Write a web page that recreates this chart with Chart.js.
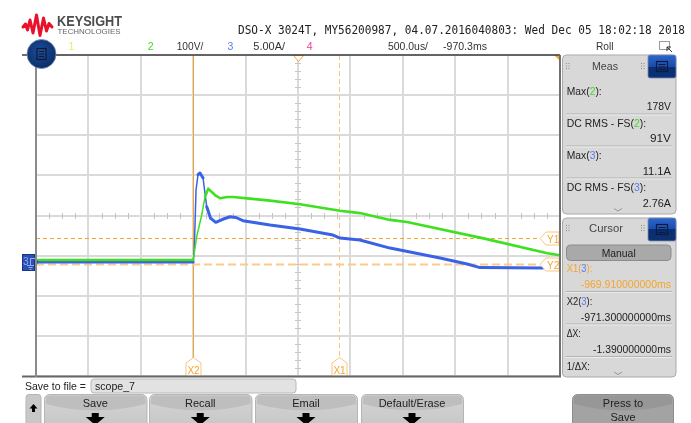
<!DOCTYPE html>
<html>
<head>
<meta charset="utf-8">
<script src="https://cdn.jsdelivr.net/npm/chart.js@4/dist/chart.umd.min.js"></script>
<style>
  html, body { margin: 0; padding: 0; background: #fff; }
  #wrap { position: relative; width: 691px; height: 423px; overflow: hidden; }
  #scope { position: absolute; left: 0; top: 0; }
  #ui { position: absolute; left: 0; top: 0; }
</style>
</head>
<body>
<div id="wrap">
  <canvas id="scope" width="691" height="423"></canvas>
  <svg id="ui" width="691" height="423" xmlns="http://www.w3.org/2000/svg"></svg>
</div>
<script>
// ---- acquisition settings ----
const timePerDivMs = 0.5;      // 500.0us/div
const timeCenterMs = -970.3;   // horizontal position
const ch2VoltsPerDiv = 100;    // channel 2: 100V/div
const ch3AmpsPerDiv = 5;       // channel 3: 5.00A/div
const ch2GroundDiv = -1.11;    // ground level, divisions from screen centre
const ch3GroundDiv = -1.16;

// ---- channel 2 (voltage) ----
const ch2TimeMs = [-972.80, -971.30, -971.267, -971.219, -971.187, -971.156, -971.125, -971.092,
                   -971.044, -970.977, -970.920, -970.758, -970.567, -970.281, -969.900, -969.710,
                   -969.420, -969.260, -968.530, -967.920, -967.800];
const ch2Volts  = [0, 0, 58, 112, 158, 178, 170, 162,
                   154, 157, 157, 153, 148, 139, 123, 117,
                   100, 95, 54, 17, 12];

// ---- channel 3 (current) ----
const ch3TimeMs = [-972.80, -971.30, -971.29, -971.273, -971.254, -971.235, -971.206, -971.171,
                   -971.135, -971.085, -971.025, -970.949, -970.892, -970.825, -970.567, -970.281,
                   -969.966, -969.899, -969.710, -969.422, -968.945, -968.687, -968.563, -967.962];
const ch3Amps   = [0, 0, 1.4, 9.0, 10.9, 11.1, 10.47, 6.89,
                   5.48, 4.95, 5.30, 5.64, 5.55, 5.15, 4.61, 4.11,
                   3.36, 2.99, 2.74, 1.74, 0.50, -0.25, -0.69, -0.75];

// ---- cursors ----
const cursorXNames = ['X1', 'X2'];
const cursorXMs    = [-969.91, -971.30];
const cursorYNames = ['Y1', 'Y2'];
const cursorYAmps  = [3.0, -0.3];

// ---- measurement panel ----
const measLabels = [['Max(', '2', '):'], ['DC RMS - FS(', '2', '):'], ['Max(', '3', '):'], ['DC RMS - FS(', '3', '):']];
const measValues = ['178V', '91V', '11.1A', '2.76A'];

const xMin = timeCenterMs - 5 * timePerDivMs;
const xMax = timeCenterMs + 5 * timePerDivMs;
const vMin = (-4 - ch2GroundDiv) * ch2VoltsPerDiv;
const vMax = (4 - ch2GroundDiv) * ch2VoltsPerDiv;
const aMin = (-4 - ch3GroundDiv) * ch3AmpsPerDiv;
const aMax = (4 - ch3GroundDiv) * ch3AmpsPerDiv;

const ORANGE = '#f5a52c';
const ORANGE_LIGHT = '#f9c57e';
const GREEN = '#3fe01f';
const BLUE = '#3a62e4';

const toPoints = (ts, vs) => ts.map((t, i) => ({ x: t, y: vs[i] }));
// fast edges are drawn with a thinner pen
const edgeWidth = w => ctx => {
  const dx = Math.abs(ctx.p1.x - ctx.p0.x), dy = Math.abs(ctx.p1.y - ctx.p0.y);
  return dy > 3 * dx ? 1.5 : w;
};

function pentagonUp(ctx, cx, bottom, label) {
  ctx.beginPath();
  ctx.moveTo(cx - 7.5, bottom);
  ctx.lineTo(cx - 7.5, bottom - 13);
  ctx.lineTo(cx, bottom - 18.5);
  ctx.lineTo(cx + 7.5, bottom - 13);
  ctx.lineTo(cx + 7.5, bottom);
  ctx.closePath();
  ctx.fillStyle = '#fff'; ctx.fill();
  ctx.strokeStyle = ORANGE_LIGHT; ctx.lineWidth = 1; ctx.stroke();
  ctx.fillStyle = ORANGE; ctx.font = '10px "Liberation Sans", Arial, sans-serif';
  ctx.textAlign = 'center'; ctx.textBaseline = 'alphabetic';
  ctx.fillText(label, cx, bottom - 2.5);
}
function pentagonLeft(ctx, right, cy, label) {
  ctx.beginPath();
  ctx.moveTo(right - 1, cy - 6.5);
  ctx.lineTo(right - 14, cy - 6.5);
  ctx.lineTo(right - 20, cy);
  ctx.lineTo(right - 14, cy + 6.5);
  ctx.lineTo(right - 1, cy + 6.5);
  ctx.closePath();
  ctx.fillStyle = '#fff'; ctx.fill();
  ctx.strokeStyle = ORANGE_LIGHT; ctx.lineWidth = 1; ctx.stroke();
  ctx.fillStyle = ORANGE; ctx.font = '10px "Liberation Sans", Arial, sans-serif';
  ctx.textAlign = 'left'; ctx.textBaseline = 'alphabetic';
  ctx.fillText(label, right - 13, cy + 4);
}

const scopeOverlay = {
  id: 'scopeOverlay',
  beforeDatasetsDraw(chart) {
    const { ctx, chartArea: a, scales: { x, yA } } = chart;
    ctx.save();
    // graticule sub-divisions on the centre lines
    const cx = Math.round(x.getPixelForValue(timeCenterMs));
    const cy = Math.round((a.top + a.bottom) / 2);
    const divW = a.width / 10, divH = a.height / 8;
    ctx.strokeStyle = '#c6c6c6'; ctx.lineWidth = 1;
    for (let i = 1; i < 40; i++) {
      if (i % 4 === 0) continue;
      const px = Math.round(a.left + i * divW / 4) + 0.5;
      ctx.beginPath(); ctx.moveTo(px, cy - 3); ctx.lineTo(px, cy + 3); ctx.stroke();
    }
    for (let j = 1; j < 40; j++) {
      if (j % 5 === 0) continue;
      const py = Math.round(a.top + j * divH / 5) + 0.5;
      ctx.beginPath(); ctx.moveTo(cx - 3, py); ctx.lineTo(cx + 3, py); ctx.stroke();
    }
    // time cursors
    cursorXMs.forEach((t, i) => {
      const px = Math.round(x.getPixelForValue(t)) + 0.5;
      ctx.beginPath();
      if (cursorXNames[i] === 'X2') { ctx.setLineDash([]); ctx.strokeStyle = ORANGE; }
      else { ctx.setLineDash([5, 3]); ctx.strokeStyle = ORANGE_LIGHT; }
      ctx.lineWidth = 1;
      ctx.moveTo(px, a.top); ctx.lineTo(px, a.bottom); ctx.stroke();
    });
    // amplitude cursors
    cursorYAmps.forEach((v, i) => {
      const py = Math.round(yA.getPixelForValue(v)) + 0.5;
      ctx.beginPath();
      if (cursorYNames[i] === 'Y1') { ctx.setLineDash([4, 3]); ctx.strokeStyle = ORANGE; ctx.lineWidth = 1; }
      else { ctx.setLineDash([8, 4]); ctx.strokeStyle = '#fbc98a'; ctx.lineWidth = 2; }
      ctx.moveTo(a.left, py); ctx.lineTo(a.right - 20, py); ctx.stroke();
    });
    ctx.restore();
  },
  afterDatasetsDraw(chart) {
    const { ctx, chartArea: a, scales: { x, yA } } = chart;
    ctx.save();
    cursorXMs.forEach((t, i) => pentagonUp(ctx, Math.round(x.getPixelForValue(t)) + 0.5, a.bottom, cursorXNames[i]));
    cursorYAmps.forEach((v, i) => pentagonLeft(ctx, a.right, Math.round(yA.getPixelForValue(v)) + 0.5, cursorYNames[i]));
    // trigger position marker
    const cx = Math.round(x.getPixelForValue(timeCenterMs)) + 0.5;
    ctx.beginPath();
    ctx.moveTo(cx - 5, a.top + 0.5); ctx.lineTo(cx + 5, a.top + 0.5); ctx.lineTo(cx, a.top + 6.5); ctx.closePath();
    ctx.fillStyle = '#fff'; ctx.fill(); ctx.strokeStyle = ORANGE; ctx.lineWidth = 1; ctx.stroke();
    // off-screen indicator in the top-right corner
    ctx.beginPath();
    ctx.moveTo(a.right - 6, a.top); ctx.lineTo(a.right, a.top); ctx.lineTo(a.right, a.top + 6); ctx.closePath();
    ctx.fillStyle = ORANGE; ctx.fill();
    ctx.restore();
  },
  afterDraw(chart) {
    const { ctx, chartArea: a, scales: { yA } } = chart;
    // channel 3 ground reference marker
    const gy = Math.round(yA.getPixelForValue(0));
    ctx.save();
    ctx.fillStyle = '#2a50b6'; ctx.strokeStyle = '#17377f'; ctx.lineWidth = 1;
    ctx.fillRect(22, gy - 8, 13, 17); ctx.strokeRect(22.5, gy - 7.5, 12, 16);
    ctx.beginPath(); ctx.moveTo(35, gy - 4); ctx.lineTo(39, gy); ctx.lineTo(35, gy + 4); ctx.closePath();
    ctx.fillStyle = '#2a50b6'; ctx.fill();
    ctx.fillStyle = '#8eaaf6'; ctx.font = '10px "Liberation Sans", Arial, sans-serif';
    ctx.textAlign = 'left'; ctx.fillText('3', 23, gy + 3);
    ctx.strokeStyle = '#8eaaf6';
    ctx.beginPath();
    ctx.moveTo(30.5, gy - 4); ctx.lineTo(30.5, gy + 3);
    ctx.moveTo(30.5, gy - 3.5); ctx.lineTo(35, gy - 3.5);
    ctx.moveTo(27, gy + 3.5); ctx.lineTo(34, gy + 3.5);
    ctx.moveTo(28.5, gy + 5.5); ctx.lineTo(32.5, gy + 5.5);
    ctx.moveTo(29.5, gy + 7.5); ctx.lineTo(31.5, gy + 7.5);
    ctx.stroke();
    ctx.restore();
  }
};

const gridStyle = { color: '#dadada', lineWidth: 2, drawTicks: false };

new Chart(document.getElementById('scope'), {
  type: 'line',
  data: {
    datasets: [
      {
        label: '2', data: toPoints(ch2TimeMs, ch2Volts), yAxisID: 'yV',
        borderColor: GREEN, borderWidth: 2.6, pointRadius: 0, tension: 0, order: 0,
        borderJoinStyle: 'round', borderCapStyle: 'round',
        segment: { borderWidth: edgeWidth(2.6) }
      },
      {
        label: '3', data: toPoints(ch3TimeMs, ch3Amps), yAxisID: 'yA',
        borderColor: BLUE, borderWidth: 3, pointRadius: 0, tension: 0, order: 1,
        borderJoinStyle: 'round', borderCapStyle: 'round',
        segment: { borderWidth: edgeWidth(3) }
      }
    ]
  },
  options: {
    responsive: false,
    animation: false,
    devicePixelRatio: 1,
    events: [],
    layout: { padding: { left: 36, top: 55, right: 131, bottom: 47 } },
    plugins: { legend: { display: false }, tooltip: { enabled: false } },
    scales: {
      x: {
        type: 'linear', min: xMin, max: xMax,
        afterBuildTicks: s => { s.ticks = Array.from({ length: 11 }, (_, i) => ({ value: xMin + i * timePerDivMs })); },
        ticks: { display: false }, border: { display: false }, grid: gridStyle
      },
      yV: {
        type: 'linear', position: 'left', min: vMin, max: vMax,
        afterBuildTicks: s => { s.ticks = Array.from({ length: 9 }, (_, i) => ({ value: vMin + i * ch2VoltsPerDiv })); },
        ticks: { display: false }, border: { display: false }, grid: gridStyle
      },
      yA: { type: 'linear', position: 'right', min: aMin, max: aMax, display: false }
    }
  },
  plugins: [scopeOverlay]
});

// ---------------- instrument screen furniture ----------------
const NS = 'http://www.w3.org/2000/svg';
const svg = document.getElementById('ui');
const FONT = "'Liberation Sans', Arial, sans-serif";
function el(tag, attrs, parent) {
  const e = document.createElementNS(NS, tag);
  for (const k in attrs) e.setAttribute(k, attrs[k]);
  (parent || svg).appendChild(e);
  return e;
}
function txt(x, y, parts, o = {}) {
  const e = el('text', {
    x, y, 'font-size': o.size || 10.5, 'font-family': o.family || FONT,
    'font-weight': o.weight || 'normal', fill: o.fill || '#222', 'text-anchor': o.anchor || 'start'
  });
  if (o.w) { e.setAttribute('textLength', o.w); e.setAttribute('lengthAdjust', 'spacingAndGlyphs'); }
  if (typeof parts === 'string') e.textContent = parts;
  else parts.forEach(([s, c]) => { const t = el('tspan', {}, e); if (c) t.setAttribute('fill', c); t.textContent = s; });
  return e;
}

const defs = el('defs', {});
const g1 = el('linearGradient', { id: 'btnBlue', x1: 0, y1: 0, x2: 0, y2: 1 }, defs);
[['0', '#2d66cc'], ['0.5', '#1c4bab'], ['0.5', '#0b2e6e'], ['1', '#0c3174']].forEach(([o, c]) => el('stop', { offset: o, 'stop-color': c }, g1));
const g2 = el('radialGradient', { id: 'navyDot', cx: 0.45, cy: 0.4, r: 0.6 }, defs);
[['0', '#1d4e9c'], ['1', '#0a2d69']].forEach(([o, c]) => el('stop', { offset: o, 'stop-color': c }, g2));
const g3 = el('linearGradient', { id: 'keyFace', x1: 0, y1: 0, x2: 0, y2: 1 }, defs);
[['0', '#d4d4d4'], ['1', '#c4c4c4']].forEach(([o, c]) => el('stop', { offset: o, 'stop-color': c }, g3));

// brand
el('polyline', {
  points: '23,27 25.5,24 27.5,30 30,20 33,33 36.5,15 40,35.5 43.5,18 46.5,31 49,23.5 52,27',
  fill: 'none', stroke: '#e8132b', 'stroke-width': 3, 'stroke-linejoin': 'round', 'stroke-linecap': 'round'
});
txt(57, 26, 'KEYSIGHT', { size: 15, weight: 'bold', fill: '#4d4d4d', w: 65 });
txt(57.5, 33.5, 'TECHNOLOGIES', { size: 7, fill: '#666', w: 63 });
txt(238, 33.5, 'DSO-X 3024T, MY56200987, 04.07.2016040803: Wed Dec 05 18:02:18 2018',
    { size: 11.5, family: "'DejaVu Sans Mono', monospace", fill: '#222', w: 447 });

// channel / timebase status line
txt(68.5, 50, '1', { fill: '#ecec62' });
txt(147.7, 50, '2', { fill: '#46d826' });
txt(176.7, 50, '100V/', { w: 26.6, fill: '#333' });
txt(227.5, 50, '3', { fill: '#5a7cf0' });
txt(253.3, 50, '5.00A/', { w: 31.7, fill: '#333' });
txt(306.7, 50, '4', { fill: '#ee3c98' });
txt(388, 50, '500.0us/', { w: 40, fill: '#333' });
txt(443, 50, '-970.3ms', { w: 44, fill: '#333' });
txt(596, 50, 'Roll', { w: 17.5, fill: '#333' });
el('rect', { x: 659.5, y: 41.5, width: 10, height: 8, fill: 'none', stroke: '#333', 'stroke-dasharray': '1,1' });
el('path', { d: 'M667,47 L672,52 M667,47 L667,51 M667,47 L671,47', stroke: '#333', 'stroke-width': 1, fill: 'none' });

// graticule frame
el('line', { x1: 22, y1: 55, x2: 560, y2: 55, stroke: '#3c3c3c', 'stroke-width': 1.5 });
el('line', { x1: 22, y1: 376.5, x2: 561, y2: 376.5, stroke: '#666', 'stroke-width': 2 });
el('line', { x1: 36, y1: 55, x2: 36, y2: 377, stroke: '#8a8a8a', 'stroke-width': 2 });
el('line', { x1: 560, y1: 55, x2: 560, y2: 377, stroke: '#707070', 'stroke-width': 2 });

// main menu button
el('circle', { cx: 41.5, cy: 54, r: 14.5, fill: 'url(#navyDot)', stroke: '#7d8fb3', 'stroke-width': 0.8 });
el('rect', { x: 37, y: 48.5, width: 9, height: 11, fill: 'none', stroke: '#111a33', 'stroke-width': 1.2 });
el('path', { d: 'M39,51.5 H44 M39,54 H44 M39,56.5 H44', stroke: '#111a33', 'stroke-width': 1 });

function panelButton(y) {
  el('rect', { x: 648, y, width: 28, height: 23, rx: 2, fill: 'url(#btnBlue)', stroke: '#7f8fb0', 'stroke-width': 0.8 });
  el('rect', { x: 656.5, y: y + 6.5, width: 11, height: 10, fill: 'none', stroke: '#0b1a42', 'stroke-width': 1.2 });
  el('path', { d: `M658.5,${y + 9.5} H665.5 M658.5,${y + 12} H665.5 M658.5,${y + 14.5} H665.5`, stroke: '#0b1a42', 'stroke-width': 1 });
}
function grip(x, y) {
  for (let r = 0; r < 3; r++) for (let c = 0; c < 2; c++)
    el('rect', { x: x + c * 2.5, y: y + r * 2.5, width: 1, height: 1, fill: '#8a8a8a' });
}
function chevron(y) {
  el('polyline', { points: `614,${y - 1.5} 618,${y + 1} 622,${y - 1.5}`, fill: 'none', stroke: '#8c8c8c', 'stroke-width': 0.9 });
}
function separator(y) {
  el('line', { x1: 566, y1: y, x2: 672, y2: y, stroke: '#b3b3b3', 'stroke-width': 1 });
  el('line', { x1: 566, y1: y + 1, x2: 672, y2: y + 1, stroke: '#ececec', 'stroke-width': 1 });
}

// measurement panel
el('rect', { x: 562.5, y: 55, width: 113.5, height: 159, rx: 4, fill: '#d8d8d8', stroke: '#a9a9a9', 'stroke-width': 1 });
panelButton(55);
grip(566, 63); grip(641, 63);
txt(605, 70, 'Meas', { anchor: 'middle', size: 11, w: 26, fill: '#444' });
const measRows = [95, 126.5, 158.5, 191];
const measValRows = [109.5, 142, 175, 207];
const chanColor = { '2': '#46d826', '3': '#5a7cf0' };
measLabels.forEach((lab, i) => {
  txt(566.7, measRows[i], [[lab[0]], [lab[1], chanColor[lab[1]]], [lab[2]]], { w: lab[0].length > 5 ? 79.5 : 35 });
  txt(671, measValRows[i], measValues[i], { anchor: 'end', w: [24.3, 21, 28.3, 28.3][i] });
  if (i < 3) separator([114, 146, 178][i]);
});
chevron(210);

// cursor panel
el('rect', { x: 562.5, y: 218, width: 113.5, height: 159, rx: 4, fill: '#d8d8d8', stroke: '#a9a9a9', 'stroke-width': 1 });
panelButton(218);
grip(566, 225); grip(641, 225);
txt(606, 232, 'Cursor', { anchor: 'middle', size: 11, w: 34, fill: '#444' });
el('rect', { x: 566.5, y: 245, width: 104.5, height: 15.5, rx: 4, fill: '#a9a9a9', stroke: '#8c8c8c', 'stroke-width': 1 });
txt(618.7, 257, 'Manual', { anchor: 'middle', size: 11, w: 34, fill: '#222' });
txt(566.7, 272, [['X1(', ORANGE], ['3', '#5a7cf0'], ['):', ORANGE]], { w: 25.6 });
txt(671, 287.5, '-969.910000000ms', { anchor: 'end', w: 90.3, fill: ORANGE });
separator(291.5);
txt(566.7, 304.5, [['X2('], ['3', '#5a7cf0'], ['):']], { w: 25.6 });
txt(671, 320.5, '-971.300000000ms', { anchor: 'end', w: 90.3 });
separator(324);
txt(566.7, 337, 'ΔX:', { w: 14 });
txt(671, 352.5, '-1.390000000ms', { anchor: 'end', w: 78 });
separator(356.5);
txt(566.7, 369.5, '1/ΔX:', { w: 23.3 });
chevron(373.5);

// file name entry
txt(25, 390, 'Save to file =', { w: 61, fill: '#222' });
el('rect', { x: 91, y: 379, width: 205, height: 14, rx: 3, fill: '#e2e2e2', stroke: '#b9b9b9', 'stroke-width': 1 });
txt(95, 390, 'scope_7', { w: 40, fill: '#222' });

// softkeys
function softkey(x0, x1, label) {
  el('rect', { x: x0 + 0.5, y: 394.5, width: x1 - x0, height: 40, rx: 5, fill: 'url(#keyFace)', stroke: '#b5b5b5', 'stroke-width': 1 });
  const m = (x0 + x1) / 2;
  el('path', { d: `M${x0 + 2},399 Q${x0 + 2},395.5 ${x0 + 6},395.5 L${x1 - 5},395.5 Q${x1 - 1},395.5 ${x1 - 1},399 L${x1 - 1},404 Q${m},417 ${x0 + 2},404 Z`, fill: '#bebebe' });
  if (label) {
    txt(m, 407, label, { anchor: 'middle', size: 11, fill: '#222' });
    el('path', { d: `M${m - 3.5},413 H${m + 3.5} V417 H${m + 9.5} L${m},425 L${m - 9.5},417 H${m - 3.5} Z`, fill: '#000' });
  }
}
el('rect', { x: 26, y: 394.5, width: 15, height: 40, rx: 3, fill: '#c8c8c8', stroke: '#b5b5b5', 'stroke-width': 1 });
el('path', { d: 'M33.5,404 L37.5,408.5 H35 V412 H32 V408.5 H29.5 Z', fill: '#000' });
softkey(44, 146.5, 'Save');
softkey(149, 251.5, 'Recall');
softkey(255, 357, 'Email');
softkey(361, 463, 'Default/Erase');

// save action key
el('rect', { x: 572.5, y: 394.5, width: 101, height: 40, rx: 5, fill: '#a3a3a3', stroke: '#8d8d8d', 'stroke-width': 1 });
el('path', { d: 'M574,399 Q574,395.5 578,395.5 L668,395.5 Q672,395.5 672,399 L672,404 Q623,417 574,404 Z', fill: '#979797' });
txt(623, 407, 'Press to', { anchor: 'middle', size: 11, fill: '#222' });
txt(623, 421, 'Save', { anchor: 'middle', size: 11, fill: '#222' });
</script>
</body>
</html>
